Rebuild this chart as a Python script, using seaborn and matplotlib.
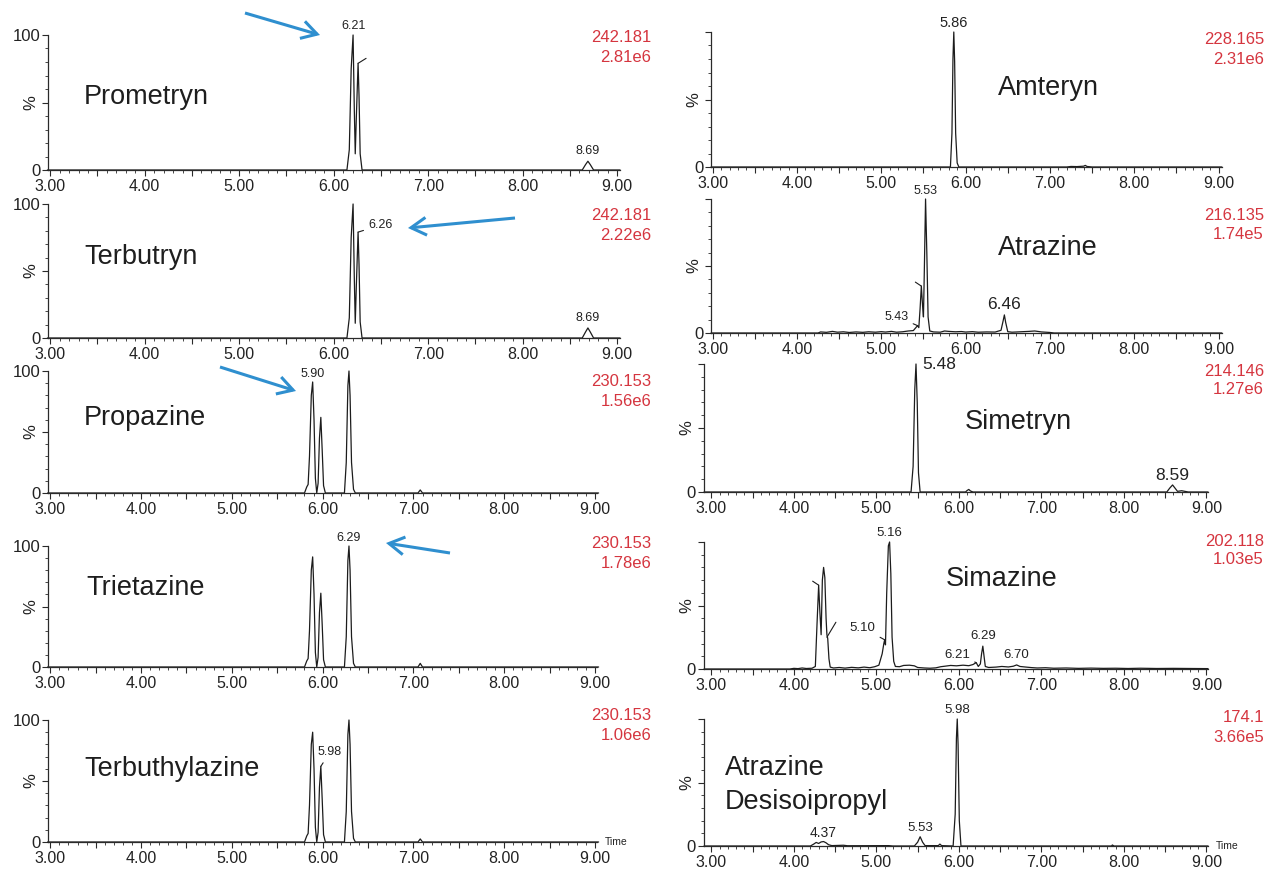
import matplotlib
matplotlib.use("Agg")
import matplotlib.pyplot as plt
from matplotlib.ticker import MultipleLocator, FuncFormatter
from matplotlib.patches import FancyArrowPatch
from matplotlib.transforms import IdentityTransform
import seaborn as sns
import pandas as pd

# ---------------------------------------------------------------- data
compounds = ["Prometryn", "Terbutryn", "Propazine", "Trietazine", "Terbuthylazine",
             "Amteryn", "Atrazine", "Simetryn", "Simazine", "Atrazine\nDesisoipropyl"]
mz_values = ["242.181", "242.181", "230.153", "230.153", "230.153",
             "228.165", "216.135", "214.146", "202.118", "174.1"]
intensities = ["2.81e6", "2.22e6", "1.56e6", "1.78e6", "1.06e6",
               "2.31e6", "1.74e5", "1.27e6", "1.03e5", "3.66e5"]
x_ticks = [3.0, 4.0, 5.0, 6.0, 7.0, 8.0, 9.0]

prometryn_t = [2.97, 6.14, 6.165, 6.185, 6.205, 6.218, 6.228, 6.240, 6.258, 6.268, 6.280, 6.300,
               8.63, 8.665, 8.69, 8.715, 8.75, 9.03]
prometryn_y = [0, 0, 15, 75, 100, 45, 12, 40, 79, 55, 12, 0,
               0, 4, 6.5, 4, 0, 0]

terbutryn_t = [2.97, 6.14, 6.165, 6.185, 6.205, 6.218, 6.228, 6.240, 6.258, 6.268, 6.280, 6.300,
               8.63, 8.665, 8.69, 8.715, 8.75, 9.03]
terbutryn_y = [0, 0, 15, 75, 100, 45, 11, 40, 79, 55, 12, 0,
               0, 4.5, 7.5, 4.5, 0, 0]

triazine3_t = [2.97, 5.80, 5.825, 5.840, 5.855, 5.875, 5.890, 5.905, 5.920, 5.935, 5.950, 5.965,
               5.980, 5.995, 6.010, 6.030, 6.240, 6.260, 6.278, 6.290, 6.302, 6.318, 6.340, 6.360,
               7.05, 7.075, 7.10, 9.04]
propazine_y = [0, 0, 5, 7, 30, 80, 91, 60, 12, 0, 8, 45,
               62, 35, 6, 0, 0, 25, 88, 100, 80, 25, 3, 0,
               0, 2.5, 0, 0]
trietazine_y = [0, 0, 5, 7, 30, 80, 91, 60, 12, 0, 8, 45,
                61, 35, 6, 0, 0, 25, 88, 100, 80, 25, 3, 0,
                0, 3, 0, 0]
terbuthylazine_y = [0, 0, 5, 7, 30, 80, 90, 60, 12, 0, 8, 45,
                    62, 35, 6, 0, 0, 25, 88, 100, 80, 25, 3, 0,
                    0, 2.5, 0, 0]

amteryn_t = [2.98, 5.82, 5.838, 5.850, 5.860, 5.870, 5.882, 5.900, 5.92,
             7.20, 7.25, 7.32, 7.40, 7.42, 7.44, 7.50, 9.04]
amteryn_y = [0, 0, 25, 80, 100, 78, 25, 3, 0,
             0, 0.4, 0.3, 0.6, 1.2, 0.4, 0, 0]

atrazine_t = [2.98, 4.25, 4.28, 4.35, 4.42, 4.48, 4.55, 4.62, 4.70, 4.78, 4.85, 4.93, 5.00,
              5.05, 5.12, 5.18, 5.25, 5.32, 5.38, 5.41, 5.43, 5.445, 5.46, 5.475, 5.49, 5.50,
              5.51, 5.525, 5.54, 5.555, 5.575, 5.62, 5.70, 5.75, 5.80, 5.88, 5.95, 6.00, 6.08,
              6.15, 6.25, 6.35, 6.42, 6.445, 6.46, 6.475, 6.50, 6.55, 6.65, 6.75, 6.82, 6.90,
              7.00, 7.05, 9.04]
atrazine_y = [0, 0, 0.8, 0.5, 1.2, 0.6, 0.9, 0.4, 0.8, 0.5, 0.9, 0.6, 1.0,
              0.7, 1.2, 0.6, 0.9, 1.5, 1.8, 4, 5.5, 4, 18, 35, 20, 12,
              45, 100, 60, 12, 1.5, 0.8, 0.6, 1.5, 1.2, 0.9, 1.1, 0.7, 1.0,
              0.6, 0.8, 0.7, 2, 9, 13.5, 8, 1, 0.6, 0.9, 1.2, 1.5, 0.8,
              0.4, 0, 0]

simetryn_t = [2.91, 5.42, 5.445, 5.465, 5.480, 5.495, 5.510, 5.530, 6.08, 6.10, 6.12, 6.14, 6.17,
              8.52, 8.555, 8.59, 8.62, 8.65, 8.70, 8.74, 8.78, 9.02]
simetryn_y = [0, 0, 20, 80, 100, 70, 15, 0, 0, 1.2, 2, 0.8, 0,
              0, 3, 5.5, 3, 0.5, 1, 0.5, 0, 0]

simazine_t = [2.91, 3.95, 4.00, 4.05, 4.10, 4.15, 4.22, 4.26, 4.28, 4.30, 4.315, 4.33, 4.345,
              4.36, 4.375, 4.39, 4.40, 4.41, 4.425, 4.44, 4.48, 4.55, 4.62, 4.70, 4.78, 4.85,
              4.92, 4.98, 5.03, 5.07, 5.09, 5.10, 5.11, 5.125, 5.145, 5.16, 5.175, 5.19, 5.21,
              5.23, 5.28, 5.33, 5.40, 5.46, 5.50, 5.58, 5.65, 5.72, 5.78, 5.83, 5.90, 5.97,
              6.05, 6.12, 6.17, 6.21, 6.235, 6.26, 6.275, 6.29, 6.305, 6.32, 6.36, 6.45, 6.52,
              6.60, 6.66, 6.70, 6.74, 6.80, 6.88, 6.95, 7.05, 7.15, 7.30, 7.45, 7.60, 7.75,
              7.90, 8.05, 8.20, 8.40, 8.60, 8.80, 9.02]
simazine_y = [0, 0, 0.5, 0.3, 0.8, 0.4, 0.6, 2, 35, 66, 45, 27, 70,
              80, 72, 40, 27, 24, 8, 1.5, 0.8, 1.2, 0.7, 1.3, 0.9, 1.5,
              1.0, 1.8, 3, 12, 20, 23, 19, 60, 97, 100, 75, 25, 6,
              2, 1.8, 2.8, 3, 2.5, 1.2, 0.8, 0.6, 0.9, 1.8, 2.2, 2.8, 2.5,
              3.0, 2.6, 3.5, 5, 2, 4, 12, 18, 10, 2, 1.2, 1.5, 2,
              1.6, 2.2, 3.2, 2, 1.6, 1.1, 0.8, 1.0, 0.6, 0.8, 0.5, 0.7, 0.5,
              0.6, 0.4, 0.6, 0.4, 0.5, 0.4, 0.3]

desiso_t = [2.91, 4.20, 4.24, 4.27, 4.30, 4.33, 4.36, 4.39, 4.42, 4.46, 4.60, 4.65, 5.15, 5.20,
            5.46, 5.50, 5.53, 5.56, 5.59, 5.75, 5.77, 5.79, 5.93, 5.955, 5.970, 5.980, 5.990,
            6.005, 6.025, 7.85, 7.86, 7.88, 9.02]
desiso_y = [0, 0, 1.5, 2.8, 2.0, 3.2, 3.5, 2.5, 1.0, 0.3, 0.6, 0.2, 0.3, 0,
            0, 3, 7.3, 3, 0.3, 0.3, 1.5, 0.3, 0, 25, 85, 100, 80,
            20, 0, 0, 0.8, 0, 0]

traces = [(prometryn_t, prometryn_y), (terbutryn_t, terbutryn_y),
          (triazine3_t, propazine_y), (triazine3_t, trietazine_y),
          (triazine3_t, terbuthylazine_y), (amteryn_t, amteryn_y),
          (atrazine_t, atrazine_y), (simetryn_t, simetryn_y),
          (simazine_t, simazine_y), (desiso_t, desiso_y)]

# peak labels: (text, retention time, height %)
peak_labels = [
    [("6.21", 6.205, 100), ("8.69", 8.69, 6.5)],
    [("6.26", 6.258, 79), ("8.69", 8.69, 7.5)],
    [("5.90", 5.89, 91)],
    [("6.29", 6.29, 100)],
    [("5.98", 5.98, 62)],
    [("5.86", 5.86, 100)],
    [("5.53", 5.525, 100), ("5.43", 5.43, 5.5), ("6.46", 6.46, 13.5)],
    [("5.48", 5.48, 100), ("8.59", 8.59, 5.5)],
    [("5.16", 5.16, 100), ("5.10", 5.10, 23), ("6.21", 6.21, 5),
     ("6.29", 6.29, 18), ("6.70", 6.70, 3.2)],
    [("5.98", 5.98, 100), ("4.37", 4.36, 3.5), ("5.53", 5.53, 7.3)],
]
# peaks marked with a leader tick but no readable label: (time, height %)
leader_marks = [[(6.258, 79)], [], [], [], [], [],
                [(5.475, 35)], [], [(4.30, 66), (4.40, 25)], []]

# ---------------------------------------------------------------- layout / style
W, H = 1268, 873
PT = 0.72  # points per pixel at dpi 100
LINE = "#1c1c1c"
RED = "#d5353f"
BLUE = "#2f8fcf"

# spine x, 3.00 tick x, 9.00 tick x, axis end x, y(100%), y(0%)  [pixels]
GEOM = [
    (48, 50.2, 617.2, 620, 35, 170),
    (48, 50.2, 617.2, 620, 204, 338),
    (48, 50.3, 595.0, 597, 371, 493),
    (48, 50.3, 595.0, 597, 546, 667),
    (48, 50.3, 595.0, 597, 720, 842),
    (711, 712.7, 1218.5, 1222, 32, 167),
    (711, 712.7, 1218.5, 1222, 199, 333),
    (703.5, 711.4, 1206.4, 1208, 364, 492),
    (703.5, 711.4, 1206.4, 1208, 542, 669),
    (703.5, 711.4, 1206.4, 1208, 719, 846),
]
NAME_POS = [(84, 97), (84, 257), (84, 418), (86, 588), (84, 769),
            (998, 88), (998, 248), (965, 422), (946, 579), (725, 768)]
RED_POS = [(651, 37), (651, 216), (651, 382), (651, 543), (651, 715),
           (1264, 40), (1264, 215), (1264, 371), (1264, 542), (1264, 718)]
RED_STEP = [20, 20, 20, 20, 20, 20, 20, 18, 18, 19]
# label style: (dx px, dy px, ha, va, fontsize, leader line)
LABEL_STYLE = [
    [(0, 3, "center", "bottom", 9, False), (0, 4, "center", "bottom", 9, False)],
    [(10, 7, "left", "center", 9, True), (0, 4, "center", "bottom", 9, False)],
    [(0, 2, "center", "bottom", 9, False)],
    [(0, 2, "center", "bottom", 9, False)],
    [(9, 14, "center", "center", 9, True)],
    [(0, 2, "center", "bottom", 10.5, False)],
    [(0, 2, "center", "bottom", 9, False), (-21, 9, "center", "center", 9, True),
     (0, 3, "center", "bottom", 12.5, False)],
    [(6, -1, "left", "center", 12.5, False), (0, 2, "center", "bottom", 12.5, False)],
    [(0, 3, "center", "bottom", 9.5, False), (-22, 12, "center", "center", 9.5, True),
     (-19, 8, "center", "center", 9.5, True), (0, 4, "center", "bottom", 9.5, False),
     (0, 4, "center", "bottom", 9.5, False)],
    [(0, 3, "center", "bottom", 9.5, False), (0, 2, "center", "bottom", 10, False),
     (0, 3, "center", "bottom", 9.5, False)],
]
LEADER_OFFS = [[(8, 5)], [], [], [], [], [], [(-6, 4)], [], [(-6, 4), (9, 15)], []]
ARROWS = [((245, 13), (320, 35)), ((515, 218), (408, 228)),
          ((220, 367), (296, 391)), ((450, 553), (386, 543))]

sns.set_style("ticks")
plt.rcParams["font.family"] = ["Liberation Sans", "DejaVu Sans"]
plt.rcParams["axes.linewidth"] = 0.9

fig = plt.figure(figsize=(W / 100, H / 100), dpi=100)

for i in range(10):
    spine, p3, p9, end, ytop, ybot = GEOM[i]
    ppm = (p9 - p3) / 6.0
    t0 = 3 + (spine - p3) / ppm
    t1 = 3 + (end - p3) / ppm
    ax = fig.add_axes([spine / W, 1 - ybot / H, (end - spine) / W, (ybot - ytop) / H])
    t, y = traces[i]
    df = pd.DataFrame({"time": t, "pct": y})
    sns.lineplot(data=df, x="time", y="pct", ax=ax, color=LINE, lw=0.9,
                 estimator=None, sort=False)
    for ln in ax.lines:
        ln.set_clip_on(False)
    ax.set_xlim(t0, t1)
    ax.set_ylim(0, 100)
    ax.set_xlabel("")
    ax.set_ylabel("")
    for s in ("top", "right"):
        ax.spines[s].set_visible(False)
    for s in ("left", "bottom"):
        ax.spines[s].set_color("#2a2a2a")

    ax.xaxis.set_major_locator(MultipleLocator(0.5))
    ax.xaxis.set_minor_locator(MultipleLocator(0.1))
    ax.xaxis.set_major_formatter(FuncFormatter(
        lambda v, p: ("%.2f" % v) if abs(v - round(v)) < 1e-6 and round(v) in x_ticks else ""))
    ax.yaxis.set_major_locator(MultipleLocator(50))
    ax.yaxis.set_minor_locator(MultipleLocator(10))
    left_col = i < 5
    ax.yaxis.set_major_formatter(FuncFormatter(
        lambda v, p, lc=left_col: "0" if abs(v) < 1e-6 else ("100" if (lc and abs(v - 100) < 1e-6) else "")))
    ax.tick_params(axis="x", which="major", length=4, width=0.8, pad=2.5,
                   labelsize=11.5, color="#2a2a2a", labelcolor="#222222", direction="out")
    ax.tick_params(axis="x", which="minor", length=2, width=0.6, color="#2a2a2a")
    ax.tick_params(axis="y", which="major", length=4, width=0.8, pad=1.5,
                   labelsize=12, color="#2a2a2a", labelcolor="#222222", direction="out")
    ax.tick_params(axis="y", which="minor", length=2, width=0.6, color="#2a2a2a")

    ax.annotate("%", xy=(0, 0.5), xycoords="axes fraction",
                xytext=(-17 * PT, 0), textcoords="offset points",
                rotation=90, ha="center", va="center", fontsize=12, color="#222222")

    for (txt, pt, ph), (dx, dy, ha, va, fs, lead) in zip(peak_labels[i], LABEL_STYLE[i]):
        kw = {}
        if lead:
            kw["arrowprops"] = dict(arrowstyle="-", lw=0.8, color=LINE, shrinkA=1, shrinkB=0)
        ax.annotate(txt, xy=(pt, ph), xytext=(dx * PT, dy * PT), textcoords="offset points",
                    ha=ha, va=va, fontsize=fs, color="#222222", annotation_clip=False, **kw)
    for (lt, lh), (dx, dy) in zip(leader_marks[i], LEADER_OFFS[i]):
        ax.annotate("", xy=(lt, lh), xytext=(dx * PT, dy * PT), textcoords="offset points",
                    annotation_clip=False,
                    arrowprops=dict(arrowstyle="-", lw=0.8, color=LINE, shrinkA=0, shrinkB=0))

    if i in (4, 9):
        ax.annotate("Time", xy=(1, 0), xycoords="axes fraction", xytext=(8 * PT, 0),
                    textcoords="offset points", ha="left", va="center",
                    fontsize=7.5, color="#222222", annotation_clip=False)

    # compound name
    nx, ny = NAME_POS[i]
    for k, line in enumerate(compounds[i].split("\n")):
        fig.text(nx / W, 1 - (ny + 34 * k) / H, line, ha="left", va="center",
                 fontsize=19.5, color="#1e1e1e")
    # mass / intensity
    rx, ry = RED_POS[i]
    fig.text(rx / W, 1 - ry / H, mz_values[i], ha="right", va="center", fontsize=12, color=RED)
    fig.text(rx / W, 1 - (ry + RED_STEP[i]) / H, intensities[i], ha="right", va="center",
             fontsize=12, color=RED)

for (x1, y1), (x2, y2) in ARROWS:
    arr = FancyArrowPatch((x1, H - y1), (x2, H - y2), transform=IdentityTransform(),
                          arrowstyle="->,head_length=0.55,head_width=0.32",
                          mutation_scale=20, lw=2.2, color=BLUE,
                          shrinkA=0, shrinkB=0, joinstyle="miter", capstyle="butt")
    fig.add_artist(arr)

fig.savefig("out.png", dpi=100)
